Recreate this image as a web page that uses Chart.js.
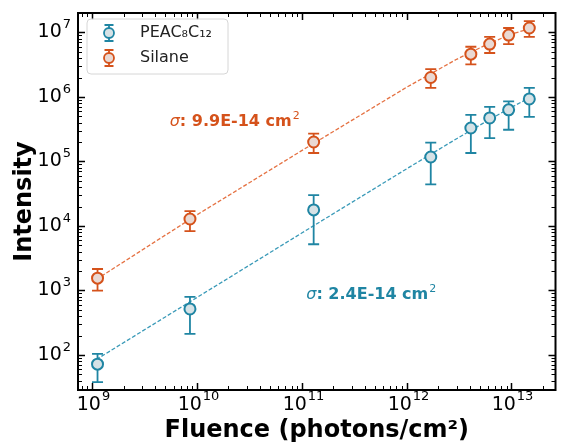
<!DOCTYPE html>
<html>
<head>
<meta charset="utf-8">
<script src="https://cdn.jsdelivr.net/npm/chart.js@4.4.1/dist/chart.umd.min.js"></script>
<style>
  html, body { margin: 0; padding: 0; background: #fff; }
  canvas { display: block; }
</style>
</head>
<body>
<canvas id="chart" width="563" height="445"></canvas>
<script>
// fluence of the measured points (photons/cm2)
const fluence = [1.13e9, 8.6e9, 1.3e11, 1.7e12, 4.1e12, 6.2e12, 9.4e12, 1.48e13];

// PEAC8C12 : intensity and error bar ends
const peacValues = [72, 516, 17700, 117000, 330000, 472000, 630000, 930000];
const peacLow    = [38, 212, 5200, 44000, 135000, 230000, 310000, 490000];
const peacHigh   = [104, 794, 30000, 195000, 525000, 700000, 850000, 1380000];

// Silane
const silaneValues = [1550, 12800, 200000, 2.0e6, 4.6e6, 6.6e6, 9.1e6, 1.17e7];
const silaneLow    = [990, 8300, 135000, 1.38e6, 3.2e6, 4.8e6, 6.6e6, 8.5e6];
const silaneHigh   = [2150, 17000, 270000, 2.7e6, 6.0e6, 8.5e6, 1.17e7, 1.5e7];

// dashed fit curves
const fitFluence = [1.1e9, 1e10, 1e11, 1e12, 3e12, 6e12, 1e13, 1.5e13];
const peacFit    = [85, 776, 7750, 76700, 225000, 434000, 690000, 978000];
const silaneFit  = [1480, 14800, 147000, 1.41e6, 3.83e6, 6.67e6, 9.38e6, 1.15e7];

const seriesLabels = ['PEAC₈C₁₂', 'Silane'];
const sigmaLabels = ['2.4E-14', '9.9E-14'];

const BLUE = '#1f85a3';
const ORANGE = '#d5521b';
const FONT = '"DejaVu Sans", sans-serif';

function pts(xs, ys) {
  return xs.map((x, i) => ({x: x, y: ys[i]}));
}

// all 1..9 x 10^n ticks inside the range
function logTicks(min, max) {
  const out = [];
  for (let e = Math.floor(Math.log10(min)); e <= Math.ceil(Math.log10(max)); e++) {
    for (let m = 1; m <= 9; m++) {
      const v = m * Math.pow(10, e);
      if (v >= min && v <= max) out.push({value: v, major: m === 1, exp: e});
    }
  }
  return out;
}

// "10" with a raised exponent, like matplotlib's log labels
function powText(ctx, e, x, y, align) {
  ctx.font = '19px ' + FONT;
  const wb = ctx.measureText('10').width;
  ctx.font = '13px ' + FONT;
  const we = ctx.measureText(String(e)).width;
  const total = wb + we + 1;
  let left = x;
  if (align === 'center') left = x - total / 2;
  if (align === 'right') left = x - total;
  ctx.textAlign = 'left';
  ctx.textBaseline = 'middle';
  ctx.font = '19px ' + FONT;
  ctx.fillText('10', left, y);
  ctx.font = '13px ' + FONT;
  ctx.fillText(String(e), left + wb + 1, y - 8);
}

// error bars go under the markers
const errorBars = {
  id: 'errorBars',
  beforeDatasetDraw(chart, args) {
    const ds = chart.data.datasets[args.index];
    if (!ds.errLow) return;
    const {ctx, scales: {x, y}} = chart;
    ctx.save();
    ctx.strokeStyle = ds.borderColor;
    ctx.lineWidth = 1.8;
    ds.data.forEach((p, i) => {
      const px = x.getPixelForValue(p.x);
      const yl = y.getPixelForValue(ds.errLow[i]);
      const yh = y.getPixelForValue(ds.errHigh[i]);
      ctx.beginPath();
      ctx.moveTo(px, yl); ctx.lineTo(px, yh);
      ctx.moveTo(px - 5.5, yl); ctx.lineTo(px + 5.5, yl);
      ctx.moveTo(px - 5.5, yh); ctx.lineTo(px + 5.5, yh);
      ctx.stroke();
    });
    ctx.restore();
  }
};

function glyph(ctx, cx, cy, color, fill) {
  ctx.strokeStyle = color;
  ctx.lineWidth = 1.8;
  ctx.beginPath();
  ctx.moveTo(cx, cy - 8); ctx.lineTo(cx, cy + 8);
  ctx.moveTo(cx - 4.5, cy - 8); ctx.lineTo(cx + 4.5, cy - 8);
  ctx.moveTo(cx - 4.5, cy + 8); ctx.lineTo(cx + 4.5, cy + 8);
  ctx.stroke();
  ctx.beginPath();
  ctx.arc(cx, cy, 5, 0, Math.PI * 2);
  ctx.fillStyle = fill;
  ctx.fill();
  ctx.stroke();
}

function sigmaText(ctx, x, y, value, color) {
  ctx.fillStyle = color;
  ctx.textBaseline = 'middle';
  ctx.textAlign = 'left';
  ctx.font = 'italic 16px ' + FONT;
  ctx.fillText('σ', x, y);
  let w = ctx.measureText('σ').width;
  const body = ': ' + value + ' cm';
  ctx.font = 'bold 16px ' + FONT;
  ctx.fillText(body, x + w, y);
  w += ctx.measureText(body).width;
  ctx.font = '11px ' + FONT;
  ctx.fillText('2', x + w + 1, y - 6);
}

const frame = {
  id: 'frame',
  afterDraw(chart) {
    const {ctx, chartArea: a, scales: {x, y}} = chart;
    ctx.save();
    ctx.strokeStyle = '#000';
    ctx.fillStyle = '#000';
    // inward ticks on all four sides, labels on bottom and left
    logTicks(x.min, x.max).forEach(t => {
      const px = Math.round(x.getPixelForValue(t.value)) + 0.5;
      const len = t.major ? 7 : 4;
      ctx.lineWidth = t.major ? 1.5 : 1;
      ctx.beginPath();
      ctx.moveTo(px, a.bottom); ctx.lineTo(px, a.bottom - len);
      ctx.moveTo(px, a.top); ctx.lineTo(px, a.top + len);
      ctx.stroke();
      if (t.major) powText(ctx, t.exp, px + 1, a.bottom + 15, 'center');
    });
    logTicks(y.min, y.max).forEach(t => {
      const py = Math.round(y.getPixelForValue(t.value)) + 0.5;
      const len = t.major ? 7 : 4;
      ctx.lineWidth = t.major ? 1.5 : 1;
      ctx.beginPath();
      ctx.moveTo(a.left, py); ctx.lineTo(a.left + len, py);
      ctx.moveTo(a.right, py); ctx.lineTo(a.right - len, py);
      ctx.stroke();
      if (t.major) powText(ctx, t.exp, a.left - 7, py, 'right');
    });
    ctx.lineWidth = 2;
    ctx.strokeRect(a.left, a.top, a.right - a.left, a.bottom - a.top);

    // sigma labels
    sigmaText(ctx, a.left + 0.192 * a.width, a.top + 0.289 * a.height, sigmaLabels[1], ORANGE);
    sigmaText(ctx, a.left + 0.478 * a.width, a.top + 0.748 * a.height, sigmaLabels[0], BLUE);

    // legend
    const lx = a.left + 9, ly = a.top + 6, lw = 141, lh = 55;
    ctx.beginPath();
    ctx.roundRect(lx, ly, lw, lh, 4);
    ctx.fillStyle = 'rgba(255,255,255,0.85)';
    ctx.fill();
    ctx.strokeStyle = '#d6d6d6';
    ctx.lineWidth = 1;
    ctx.stroke();
    const rows = [[seriesLabels[0], BLUE, '#d6e2e6'], [seriesLabels[1], ORANGE, '#ead9d3']];
    rows.forEach((r, i) => {
      const cy = ly + 14 + i * 25;
      glyph(ctx, lx + 22, cy, r[1], r[2]);
      ctx.fillStyle = '#222';
      ctx.font = '16px ' + FONT;
      ctx.textAlign = 'left';
      ctx.textBaseline = 'middle';
      ctx.fillText(r[0], lx + 53, cy);
    });
    ctx.restore();
  }
};

new Chart(document.getElementById('chart'), {
  type: 'scatter',
  data: {
    datasets: [
      {
        label: seriesLabels[0],
        data: pts(fluence, peacValues),
        errLow: peacLow, errHigh: peacHigh,
        borderColor: BLUE, backgroundColor: '#d6e2e6',
        pointRadius: 5.5, borderWidth: 2, order: 0
      },
      {
        label: seriesLabels[1],
        data: pts(fluence, silaneValues),
        errLow: silaneLow, errHigh: silaneHigh,
        borderColor: ORANGE, backgroundColor: '#ead9d3',
        pointRadius: 5.5, borderWidth: 2, order: 0
      },
      {
        label: 'PEAC fit',
        data: pts(fitFluence, peacFit),
        showLine: true, pointRadius: 0, borderWidth: 1.3,
        borderColor: '#3a9ab8', borderDash: [4, 2], order: 1
      },
      {
        label: 'Silane fit',
        data: pts(fitFluence, silaneFit),
        showLine: true, pointRadius: 0, borderWidth: 1.3,
        borderColor: '#e57243', borderDash: [4, 2], order: 1
      }
    ]
  },
  options: {
    responsive: false,
    animation: false,
    devicePixelRatio: 1,
    layout: { padding: { top: 13, right: 6, left: 0, bottom: 0 } },
    plugins: { legend: { display: false }, tooltip: { enabled: false } },
    scales: {
      x: {
        type: 'logarithmic',
        min: 7.36e8, max: 2.63e13,
        afterBuildTicks: s => { s.ticks = logTicks(s.min, s.max); },
        afterFit: s => { s.height = 55; },
        grid: { display: false, drawTicks: false },
        border: { display: false },
        ticks: { autoSkip: false, maxRotation: 0, callback: () => '' },
        title: {
          display: true, text: 'Fluence (photons/cm²)', color: '#000',
          font: { family: FONT, size: 24, weight: 'bold', lineHeight: 1.15 },
          padding: { top: 0, bottom: 0 }
        }
      },
      y: {
        type: 'logarithmic',
        min: 28.6, max: 2.0e7,
        afterBuildTicks: s => { s.ticks = logTicks(s.min, s.max); },
        afterFit: s => { s.width = 78; },
        grid: { display: false, drawTicks: false },
        border: { display: false },
        ticks: { autoSkip: false, callback: () => '' },
        title: {
          display: true, text: 'Intensity', color: '#000',
          font: { family: FONT, size: 24, weight: 'bold', lineHeight: 1.15 },
          padding: { top: 11, bottom: 0 }
        }
      }
    }
  },
  plugins: [errorBars, frame]
});
</script>
</body>
</html>
